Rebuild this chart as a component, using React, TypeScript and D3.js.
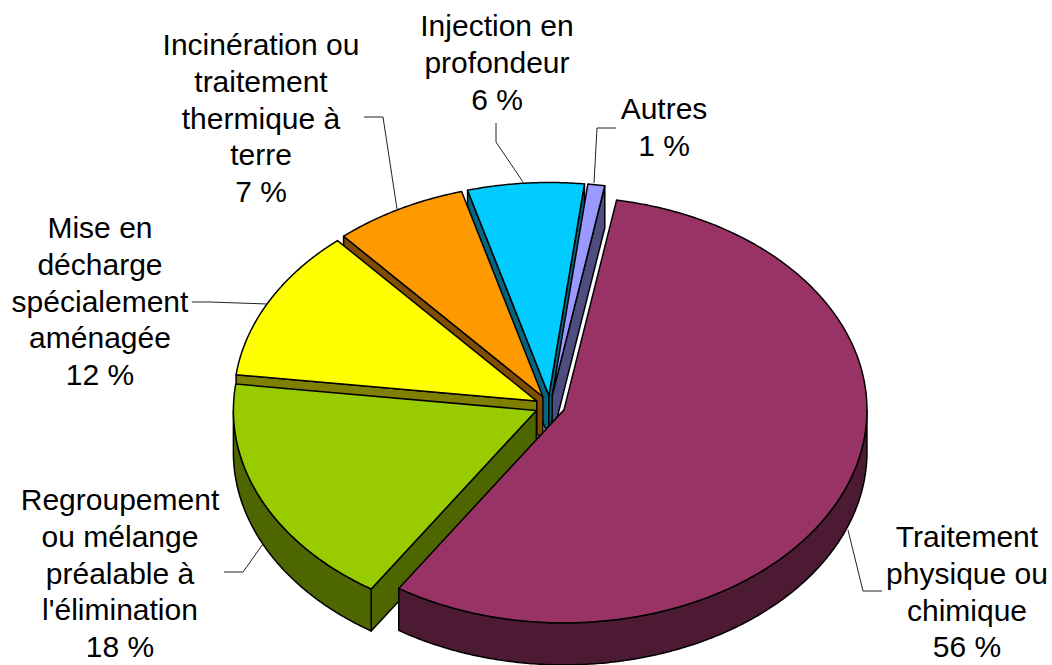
import React from "react";
import * as d3 from "d3";

const categories = ["Traitement physique ou chimique", "Regroupement ou mélange préalable à l'élimination", "Mise en décharge spécialement aménagée", "Incinération ou traitement thermique à terre", "Injection en profondeur", "Autres"];
const shares = [56.4, 17.8, 11.6, 7.1, 6.2, 0.9];
const percentLabels = ["56 %", "18 %", "12 %", "7 %", "6 %", "1 %"];
const topColors = ["#993366", "#99CC00", "#FFFF00", "#FF9900", "#00CCFF", "#9999FF"];
const wallColors = ["#4D1A33", "#4D6600", "#808000", "#804D00", "#006680", "#4D4D80"];
const paintOrder = [4, 5, 3, 2, 1, 0];
const labelLines = [
  ["Traitement", "physique ou", "chimique"],
  ["Regroupement", "ou mélange", "préalable à", "l'élimination"],
  ["Mise en", "décharge", "spécialement", "aménagée"],
  ["Incinération ou", "traitement", "thermique à", "terre"],
  ["Injection en", "profondeur"],
  ["Autres"],
];
const labelAnchors: [number, number][] = [[967, 547], [120, 510], [100, 238], [261, 55], [497, 36], [664, 119]];
const leaders: [number, number][][] = [
  [[848, 530], [863, 591], [882, 591]],
  [[263, 544], [243, 572], [224, 572]],
  [[267, 304], [210, 302], [192, 302]],
  [[397, 209], [383, 117], [364, 117]],
  [[523, 182], [496, 142], [496, 123]],
  [[594, 183], [597, 128], [616, 128]],
];

const W = 1052, H = 665;
const CX = 550, CY = 406, RX = 303, RY = 213, DEPTH = 42, EXPLODE = 15, LINE = 36.8;
const START = (10 * Math.PI) / 180;
const rad = Math.PI / 180;

const pie = d3.pie<number>().sort(null).startAngle(START).endAngle(START + 2 * Math.PI);
const arcs = pie(shares);
const line = d3.line<[number, number]>();

export default function App() {
  const slices = arcs.map((a) => {
    const mid = (a.startAngle + a.endAngle) / 2;
    const ox = CX + EXPLODE * Math.sin(mid);
    const oy = CY - EXPLODE * Math.cos(mid) * (RY / RX);
    const pt = (t: number, d = 0): [number, number] => [ox + RX * Math.sin(t), oy - RY * Math.cos(t) + d];
    const sweep = (s: number, e: number, d = 0) => {
      const n = Math.max(2, Math.ceil(Math.abs(e - s) / (0.5 * rad)));
      return d3.range(n + 1).map((i) => pt(s + ((e - s) * i) / n, d));
    };
    const tip: [number, number] = [ox, oy];
    const tipLow: [number, number] = [ox, oy + DEPTH];
    const top = line([tip, ...sweep(a.startAngle, a.endAngle)]) + "Z";
    const walls: string[] = [];
    // A radial cut face is drawn only when it faces the viewer
    if (Math.sin(a.startAngle) < 0) walls.push(line([tip, pt(a.startAngle), pt(a.startAngle, DEPTH), tipLow]) + "Z");
    if (Math.sin(a.endAngle) > 0) walls.push(line([tip, pt(a.endAngle), pt(a.endAngle, DEPTH), tipLow]) + "Z");
    // Front-facing part of the rim
    [Math.PI, 3 * Math.PI].forEach((c) => {
      const s = Math.max(a.startAngle, c - Math.PI / 2);
      const e = Math.min(a.endAngle, c + Math.PI / 2);
      if (e > s) {
        const upper = sweep(s, e);
        const lower = sweep(s, e, DEPTH).reverse();
        walls.push(line([...upper, ...lower]) + "Z");
      }
    });
    return { top, walls };
  });

  return (
    <svg width={W} height={H} viewBox={`0 0 ${W} ${H}`} style={{ position: "absolute", left: 0, top: 0, display: "block", background: "#fff" }}>
      {paintOrder.map((i) => (
        <g key={categories[i]} stroke="#000" strokeWidth={1.5} strokeLinejoin="round">
          {slices[i].walls.map((d, j) => (
            <path key={j} d={d} fill={wallColors[i]} />
          ))}
          <path d={slices[i].top} fill={topColors[i]} />
        </g>
      ))}
      {leaders.map((pts, i) => (
        <path key={i} d={line(pts) as string} fill="none" stroke="#222" strokeWidth={1} />
      ))}
      {labelLines.map((lines, i) => (
        <text key={i} textAnchor="middle" fontFamily="'Liberation Sans', Arial, sans-serif" fontSize={30} fill="#000">
          {[...lines, percentLabels[i]].map((t, j) => (
            <tspan key={j} x={labelAnchors[i][0]} y={labelAnchors[i][1] + j * LINE}>{t}</tspan>
          ))}
        </text>
      ))}
    </svg>
  );
}
